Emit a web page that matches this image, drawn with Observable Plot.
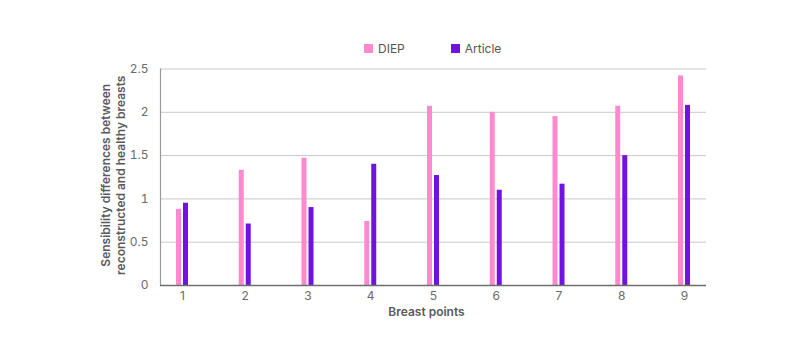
<!DOCTYPE html>
<html>
<head>
<meta charset="utf-8">
<script src="https://cdn.jsdelivr.net/npm/d3@7"></script>
<script src="https://cdn.jsdelivr.net/npm/@observablehq/plot@0.6"></script>
<style>
  html, body { margin: 0; padding: 0; background: #fff; }
  body { position: relative; width: 800px; height: 359px; overflow: hidden; font-family: Inter, "Noto Sans", sans-serif; }
  #legend { position: absolute; top: 32px; left: 364px; }
  div.lg-swatches { font-family: Inter, sans-serif !important; font-size: 12px !important; color: #555; margin: 0 !important; }
  div.lg-swatches .lg-swatch { margin-right: 46px !important; }
  div.lg-swatches .lg-swatch > svg { margin-right: 5px !important; }
</style>
</head>
<body>
<div id="chart"></div>
<div id="legend"></div>
<script>
const points = ["1", "2", "3", "4", "5", "6", "7", "8", "9"];
const seriesNames = ["DIEP", "Article"];
const diep = [0.88, 1.33, 1.47, 0.74, 2.07, 2.0, 1.95, 2.07, 2.42];
const article = [0.95, 0.71, 0.9, 1.4, 1.27, 1.1, 1.17, 1.5, 2.08];
const colors = ["#ff88cf", "#7212e2"];
const yTicks = [0, 0.5, 1, 1.5, 2, 2.5];
const yTitle = "Sensibility differences between\nreconstructed and healthy breasts";
const xTitle = "Breast points";

const rows = [];
points.forEach((p, i) => {
  rows.push({point: p, series: seriesNames[0], value: diep[i]});
  rows.push({point: p, series: seriesNames[1], value: article[i]});
});

const plot = Plot.plot({
  width: 800,
  height: 359,
  marginTop: 68.5,
  marginBottom: 74,
  marginLeft: 160,
  marginRight: 94,
  style: {fontFamily: "Inter, sans-serif", fontSize: "12px", color: "#666", background: "#fff"},
  x: {domain: points, paddingInner: 0.809, paddingOuter: 0.255, round: false, axis: null},
  y: {domain: [0, 2.5], axis: null},
  color: {domain: seriesNames, range: colors},
  marks: [
    Plot.ruleY(yTicks.filter(d => d > 0), {stroke: "#c8c8c8", strokeWidth: 1}),
    Plot.barY(rows.filter(d => d.series === "DIEP"), {x: "point", y: "value", fill: "series", insetRight: 7, insetLeft: 0}),
    Plot.barY(rows.filter(d => d.series === "Article"), {x: "point", y: "value", fill: "series", insetLeft: 7, insetRight: 0}),
    Plot.frame({anchor: "left", stroke: "#9a9a9a", strokeWidth: 1.2}),
    Plot.ruleY([0], {stroke: "#6e6e6e", strokeWidth: 1.5}),
    Plot.axisY(yTicks, {tickSize: 0, tickPadding: 12, tickFormat: d => String(d), fill: "#6a6a6a", fontSize: 12, label: null}),
    Plot.axisX(points, {tickSize: 0, tickPadding: 6, fill: "#6a6a6a", fontSize: 12, label: null}),
    Plot.text([yTitle], {frameAnchor: "left", dx: -48, dy: -2, rotate: -90, textAnchor: "middle", lineAnchor: "middle", fill: "#5a5a5a", fontWeight: 600, fontSize: 12, lineHeight: 1.32}),
    Plot.text([xTitle], {frameAnchor: "bottom", dy: 27, dx: -7, lineAnchor: "middle", fill: "#5a5a5a", fontWeight: 600, fontSize: 12})
  ]
});
document.getElementById("chart").appendChild(plot);

const legend = Plot.legend({
  color: {domain: seriesNames, range: colors},
  legend: "swatches",
  swatchSize: 9,
  className: "lg"
});
document.getElementById("legend").appendChild(legend);
</script>
</body>
</html>
